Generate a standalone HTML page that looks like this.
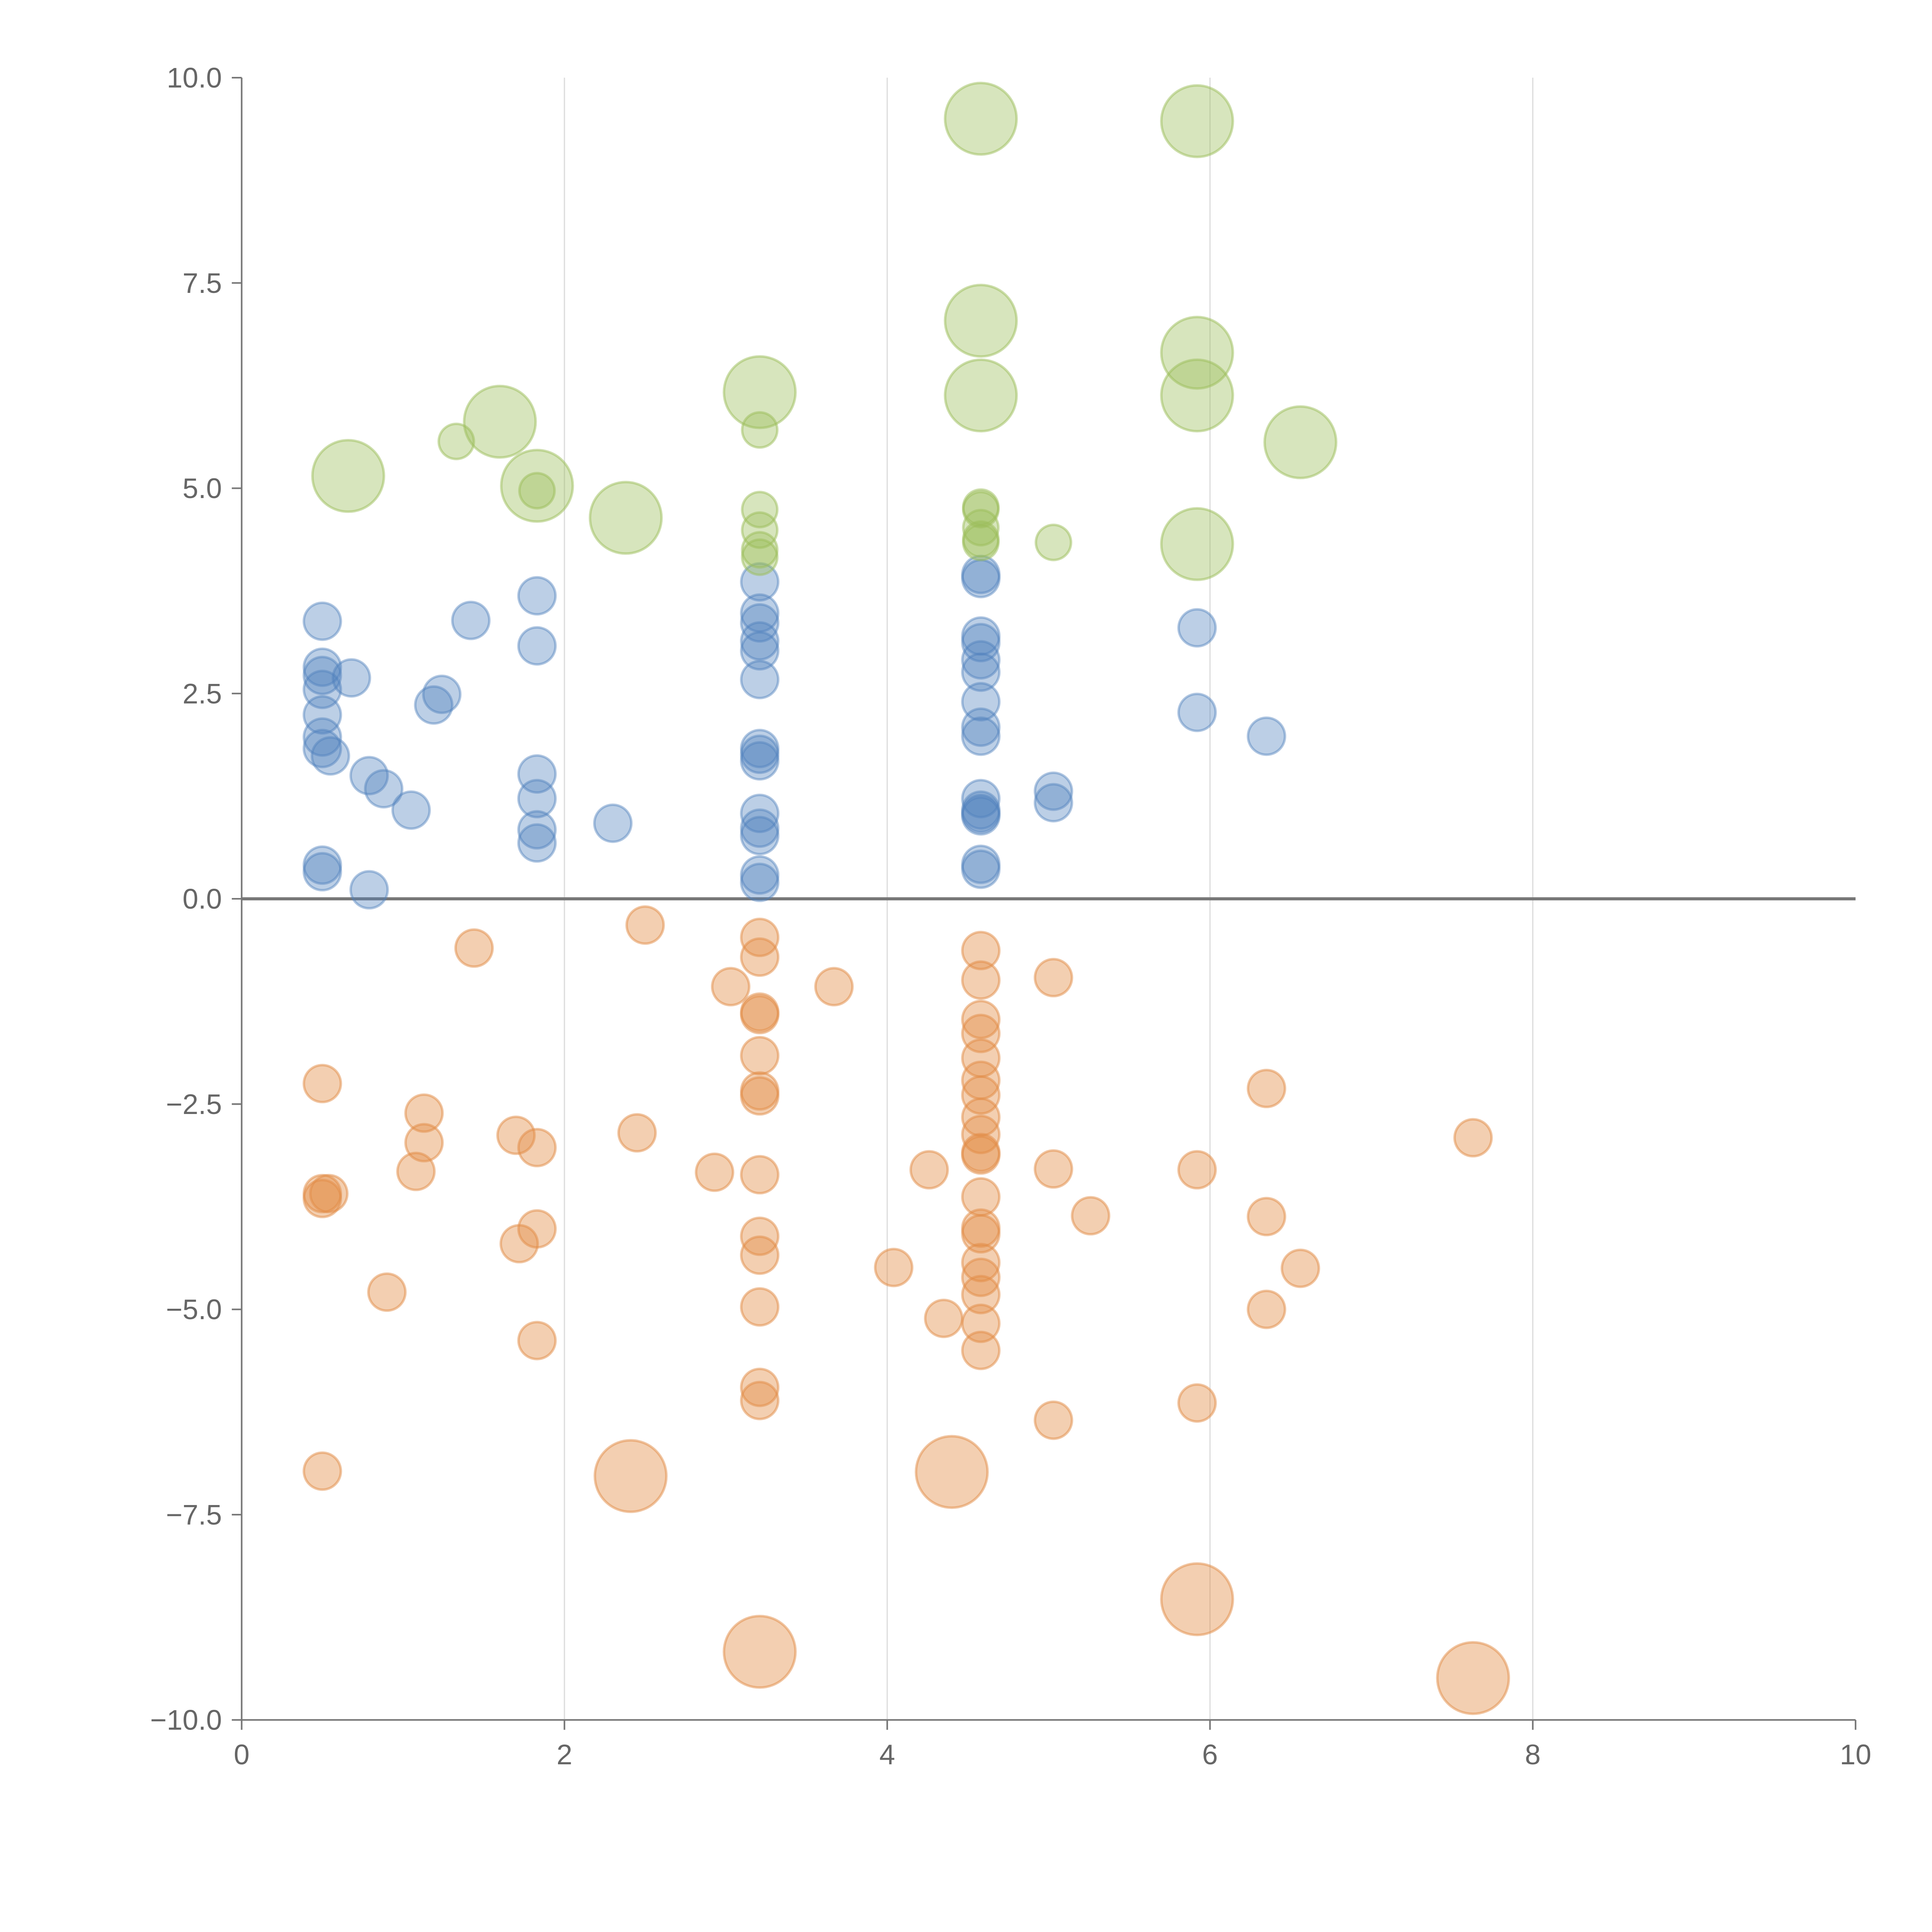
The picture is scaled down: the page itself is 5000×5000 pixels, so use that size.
<!DOCTYPE html>
<html><head><meta charset="utf-8"><style>
html,body{margin:0;padding:0;background:#fff}
svg{display:block}
text{font-family:"Liberation Sans",sans-serif;fill:#666;font-size:23px}
</style></head><body>
<svg id="chart" width="5000" height="5000" viewBox="0 0 1567 1567" xmlns="http://www.w3.org/2000/svg">
<g id="grid"></g>
<g id="axes"></g>
<g id="marks"></g>
</svg>
<script>
const xTicks=[0,2,4,6,8,10];
const yTicks=[-10,-7.5,-5,-2.5,0,2.5,5,7.5,10];
const yTickLabels=["\u221210.0","\u22127.5","\u22125.0","\u22122.5","0.0","2.5","5.0","7.5","10.0"];
const xTickLabels=["0","2","4","6","8","10"];

const blueX=[0.5,0.5,0.5,0.5,0.5,0.5,0.5,0.55,0.68,0.79,0.88,1.05,0.79,0.5,0.5,1.19,1.24,1.42,1.83,1.83,1.83,1.83,1.83,1.83,2.3,3.21,3.21,3.21,3.21,3.21,3.21,3.21,3.21,3.21,3.21,3.21,3.21,3.21,3.21,4.58,4.58,4.58,4.58,4.58,4.58,4.58,4.58,4.58,4.58,4.58,4.58,4.58,4.58,4.58,5.03,5.03,5.92,5.92,6.35];
const blueY=[3.38,2.82,2.72,2.55,2.24,1.97,1.83,1.74,2.69,1.5,1.34,1.08,0.11,0.41,0.33,2.36,2.49,3.39,3.69,3.08,1.52,1.22,0.84,0.68,0.92,3.86,3.48,3.36,3.14,3.02,2.67,1.83,1.76,1.68,1.04,0.86,0.77,0.29,0.2,3.95,3.9,3.2,3.12,2.91,2.76,2.4,2.09,1.98,1.22,1.08,1.04,1.01,0.42,0.36,1.31,1.17,3.3,2.27,1.98];

const orangeX=[0.5,0.5,0.5,0.54,0.5,0.9,1.08,1.13,1.13,1.44,1.7,1.72,1.83,1.83,1.83,2.45,2.5,2.93,3.03,3.21,3.21,3.21,3.21,3.21,3.21,3.21,3.21,3.21,3.21,3.21,3.21,3.21,3.67,4.04,4.26,4.35,4.58,4.58,4.58,4.58,4.58,4.58,4.58,4.58,4.58,4.58,4.58,4.58,4.58,4.58,4.58,4.58,4.58,4.58,4.58,5.03,5.03,5.03,5.26,5.92,5.92,6.35,6.35,6.35,6.56,7.63,2.41,4.4,3.21,5.92,7.63];
const orangeY=[-2.25,-3.59,-3.65,-3.59,-6.97,-4.79,-3.32,-2.61,-2.97,-0.6,-2.88,-4.2,-3.03,-4.02,-5.38,-2.85,-0.32,-3.33,-1.07,-0.47,-0.71,-1.38,-1.41,-1.91,-2.34,-2.4,-3.36,-4.11,-4.34,-4.97,-5.95,-6.11,-1.07,-4.49,-3.3,-5.11,-0.63,-0.99,-1.47,-1.64,-1.94,-2.21,-2.39,-2.66,-2.87,-3.09,-3.12,-3.63,-4.01,-4.08,-4.43,-4.61,-4.82,-5.17,-5.5,-0.96,-3.29,-6.35,-3.86,-3.3,-6.14,-2.31,-3.87,-5.0,-4.5,-2.91,-7.03,-6.98,-9.17,-8.53,-9.49];
const orangeSize=[1,1,1,1,1,1,1,1,1,1,1,1,1,1,1,1,1,1,1,1,1,1,1,1,1,1,1,1,1,1,1,1,1,1,1,1,1,1,1,1,1,1,1,1,1,1,1,1,1,1,1,1,1,1,1,1,1,1,1,1,1,1,1,1,1,1,2,2,2,2,2];

const greenX=[4.58,5.92,4.58,5.92,5.92,4.58,3.21,1.6,0.66,1.83,2.38,6.56,5.92,1.33,1.83,3.21,3.21,3.21,3.21,3.21,4.58,4.58,4.58,4.58,4.58,5.03];
const greenY=[9.5,9.47,7.04,6.65,6.13,6.13,6.17,5.81,5.15,5.03,4.64,5.56,4.32,5.57,4.97,5.71,4.74,4.49,4.25,4.16,4.77,4.74,4.52,4.38,4.34,4.34];
const greenSize=[2,2,2,2,2,2,2,2,2,2,2,2,2,0.95,0.95,0.95,0.95,0.95,0.95,0.95,0.95,0.95,0.95,0.95,0.95,0.95];

const NS="http://www.w3.org/2000/svg";
const X0=196,X1=1505,Y0=1395,Y1=63;
function sx(v){return X0+(v-0)/10*(X1-X0);}
function sy(v){return Y0-(v+10)/20*(Y0-Y1);}
function rs(s){return s>=2?29:15*s;}
function mk(tag,attrs,parent){const e=document.createElementNS(NS,tag);for(const k in attrs)e.setAttribute(k,attrs[k]);parent.appendChild(e);return e;}
const grid=document.getElementById('grid'),axes=document.getElementById('axes'),marks=document.getElementById('marks');

xTicks.forEach((t,i)=>{
  if(t>0&&t<10){const g=mk('line',{x1:sx(t),x2:sx(t),y1:Y1,y2:Y0,stroke:'#ddd','stroke-width':1},grid);
  
  }
  const tk=mk('line',{x1:sx(t),x2:sx(t),y1:Y0,y2:Y0+8,stroke:'#777','stroke-width':1.3},axes);
  
  
  const tx=mk('text',{x:sx(t),y:Y0+36,'text-anchor':'middle'},axes);tx.textContent=xTickLabels[i];
  
  
});
yTicks.forEach((t,i)=>{
  const tk=mk('line',{x1:X0-8,x2:X0,y1:sy(t),y2:sy(t),stroke:'#777','stroke-width':1.3},axes);
  
  
  const tx=mk('text',{x:X0-16,y:sy(t)+8,'text-anchor':'end'},axes);tx.textContent=yTickLabels[i];
  
  
});
const ya=mk('line',{x1:X0,x2:X0,y1:Y1,y2:Y0,stroke:'#777','stroke-width':1.3},axes);


const xa=mk('line',{x1:X0,x2:X1,y1:Y0,y2:Y0,stroke:'#777','stroke-width':1.3},axes);



function series(xs,ys,ss,fill,stroke,name){
  xs.forEach((x,i)=>{
    const c=mk('circle',{cx:sx(x),cy:sy(ys[i]),r:rs(ss?ss[i]:1),fill:fill,stroke:stroke,'stroke-width':2},marks);
    
    
  });
}
series(blueX,blueY,null,'rgba(79,129,189,0.38)','rgba(79,129,189,0.45)','blue-bubble');
series(orangeX,orangeY,orangeSize,'rgba(226,140,70,0.42)','rgba(226,140,70,0.5)','orange-bubble');
series(greenX,greenY,greenSize,'rgba(155,190,90,0.4)','rgba(155,190,90,0.5)','green-bubble');

const zl=mk('line',{x1:X0,x2:X1,y1:sy(0),y2:sy(0),stroke:'#777','stroke-width':2.5},axes);


</script>
</body></html>
